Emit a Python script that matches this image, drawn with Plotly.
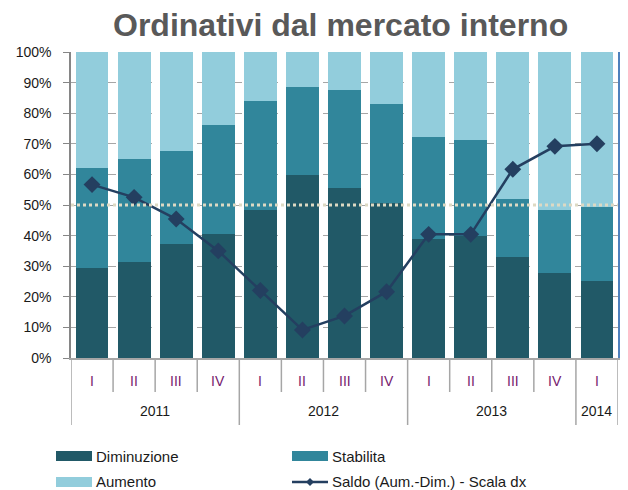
import plotly.graph_objects as go

quarters = ["I", "II", "III", "IV", "I", "II", "III", "IV", "I", "II", "III", "IV", "I"]
years = ["2011", "2012", "2013", "2014"]
year_spans = [(0, 3), (4, 7), (8, 11), (12, 12)]
diminuzione = [29.5, 31.5, 37.3, 40.4, 48.4, 59.7, 55.4, 50.5, 38.8, 39.9, 33.0, 27.7, 25.1]
stabilita = [32.7, 33.4, 30.2, 35.6, 35.6, 29.0, 32.3, 32.4, 33.5, 31.4, 19.0, 20.7, 24.3]
aumento = [37.8, 35.1, 32.5, 24.0, 16.0, 11.3, 12.3, 17.1, 27.7, 28.7, 48.0, 51.6, 50.6]
saldo = [8.0, 3.0, -5.5, -18.0, -33.5, -49.0, -43.5, -34.0, -11.5, -11.5, 14.0, 23.0, 24.0]
y_ticks = [0, 10, 20, 30, 40, 50, 60, 70, 80, 90, 100]

FONT = "Liberation Sans, Arial, sans-serif"
C_DIM = "#215967"
C_STAB = "#31869B"
C_AUM = "#92CDDC"
C_LINE = "#243F60"

x = list(range(len(quarters)))
fig = go.Figure()
for name, vals, col in [("Diminuzione", diminuzione, C_DIM),
                        ("Stabilita", stabilita, C_STAB),
                        ("Aumento", aumento, C_AUM)]:
    fig.add_trace(go.Bar(x=x, y=vals, name=name, marker=dict(color=col, line=dict(width=0)),
                         width=0.78, showlegend=False))
fig.add_trace(go.Scatter(x=x, y=saldo, yaxis="y2", mode="lines+markers",
                         name="Saldo (Aum.-Dim.) - Scala dx",
                         line=dict(color=C_LINE, width=2.5),
                         marker=dict(symbol="diamond", size=13, color=C_LINE),
                         showlegend=False))

# page body has an 8px margin: work in reference pixels and shift by O
O = 8
W, H = 628 - O, 490 - O
L, R, T, B = 71 - O, 10, 52 - O, 132
pw, ph = W - L - R, H - T - B

def px_y(py):
    return (H - B - (py - O)) / ph

def px_x(px):
    return ((px - O) - L) / pw

shapes = []
shapes.append(dict(type="line", xref="paper", yref="y", x0=0, x1=1, y0=50, y1=50,
                   line=dict(color="#DDD9C3", width=3, dash="dot"), layer="above"))
for k in range(-1, len(quarters)):
    xb = k + 0.5
    is_year = xb in (-0.5, 3.5, 7.5, 11.5, 12.5)
    shapes.append(dict(type="line", xref="x", yref="paper", x0=xb, x1=xb,
                       y0=0, y1=px_y(425 if is_year else 392),
                       line=dict(color="#A6A6A6", width=1.5)))

annotations = []
annotations.append(dict(text="<b>Ordinativi dal mercato interno</b>", xref="paper", yref="paper",
                        x=px_x(340), y=px_y(25), showarrow=False,
                        font=dict(family=FONT, size=32, color="#595959"),
                        xanchor="center", yanchor="middle"))
for i, q in enumerate(quarters):
    annotations.append(dict(text=q, xref="x", yref="paper", x=i, y=px_y(381), showarrow=False,
                            font=dict(family=FONT, size=14, color="#76206E"),
                            xanchor="center", yanchor="middle"))
for yname, (a, b) in zip(years, year_spans):
    annotations.append(dict(text=yname, xref="x", yref="paper", x=(a + b) / 2, y=px_y(411),
                            showarrow=False, font=dict(family=FONT, size=14, color="#1a1a1a"),
                            xanchor="center", yanchor="middle"))

leg = [("Diminuzione", C_DIM, 56, 456, "box"), ("Stabilita", C_STAB, 292, 456, "box"),
       ("Aumento", C_AUM, 56, 482, "box"), ("Saldo (Aum.-Dim.) - Scala dx", C_LINE, 292, 482, "line")]
for name, col, lx, ly, kind in leg:
    if kind == "box":
        shapes.append(dict(type="rect", xref="paper", yref="paper",
                           x0=px_x(lx), x1=px_x(lx + 36), y0=px_y(ly + 5), y1=px_y(ly - 5),
                           fillcolor=col, line=dict(width=0)))
    else:
        shapes.append(dict(type="line", xref="paper", yref="paper",
                           x0=px_x(lx), x1=px_x(lx + 36), y0=px_y(ly), y1=px_y(ly),
                           line=dict(color=col, width=2.5)))
        shapes.append(dict(type="path", xref="paper", yref="paper",
                           path="M {0},{1} L {2},{3} L {0},{4} L {5},{3} Z".format(
                               px_x(lx + 18), px_y(ly - 4), px_x(lx + 22), px_y(ly),
                               px_y(ly + 4), px_x(lx + 14)),
                           fillcolor=col, line=dict(width=0)))
    annotations.append(dict(text=name, xref="paper", yref="paper", x=px_x(lx + 38), y=px_y(ly),
                            showarrow=False, font=dict(family=FONT, size=15, color="#1a1a1a"),
                            xanchor="left", yanchor="middle"))

fig.update_layout(
    width=W, height=H,
    margin=dict(l=L, r=R, t=T, b=B),
    barmode="stack", bargap=0.22,
    plot_bgcolor="white", paper_bgcolor="white",
    font=dict(family=FONT, size=14, color="#1a1a1a"),
    xaxis=dict(range=[-0.5, len(quarters) - 0.5], showticklabels=False, ticks="",
               showgrid=False, zeroline=False, showline=True, linecolor="#A6A6A6", linewidth=1.5,
               automargin=False),
    yaxis=dict(range=[0, 100], tickvals=y_ticks, ticktext=[f"{v}%" for v in y_ticks],
               showgrid=True, gridcolor="#A6A6A6", griddash="dash", gridwidth=1,
               zeroline=False, showline=True, linecolor="#868686", linewidth=1.5,
               ticks="outside", ticklen=6, tickcolor="#868686", ticklabelstandoff=9,
               tickfont=dict(family=FONT, size=14, color="#1a1a1a"), automargin=False),
    yaxis2=dict(range=[-60, 60], dtick=20, overlaying="y", side="right", showgrid=False,
                zeroline=False, showticklabels=False, showline=True, linecolor="#4F81BD",
                linewidth=1.5, ticks="outside", ticklen=5, tickcolor="#4F81BD", automargin=False),
    shapes=shapes, annotations=annotations, showlegend=False,
)
fig.write_html("out.html")
